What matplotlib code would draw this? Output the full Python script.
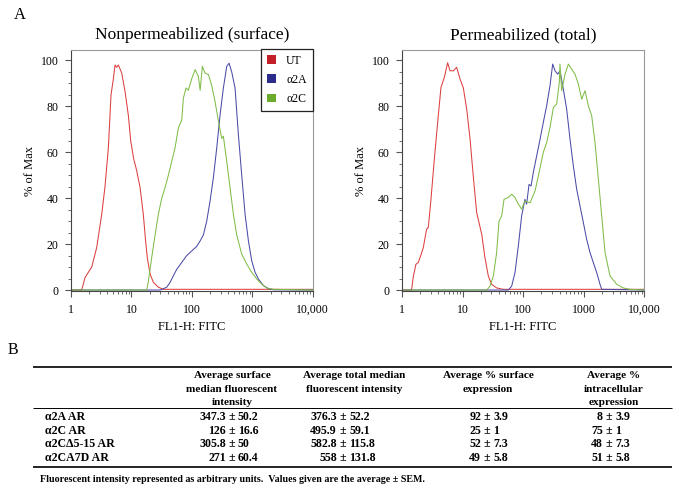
import numpy as np
import matplotlib
matplotlib.use("Agg")
import matplotlib.pyplot as plt
from matplotlib.patches import Patch
from matplotlib.ticker import MultipleLocator, LogLocator, NullFormatter

plt.rcParams['font.family'] = ['Liberation Serif', 'DejaVu Serif']

# ---- panel A data (FL1-H intensity, % of max) ----
surf_ut_x = [1, 1.5, 1.71, 2.2, 2.66, 3.22, 3.65, 4.15, 4.59, 5.02, 5.35, 5.7, 6.07, 6.9, 7.83,
             8.89, 9.72, 10.8, 12.2, 13.9, 15.7, 17.2, 18.3, 20.3, 23.1, 27.9, 33.8, 10000]
surf_ut_y = [0, 0, 5.5, 10, 18.5, 33, 45, 62, 85, 92, 98, 97, 98, 94.5, 86.5,
             76, 65, 57.6, 52, 44.6, 33, 21, 14, 7, 3.3, 1.2, 0.3, 0.3]

surf_a2a_x = [1, 30, 38.3, 43.5, 49.4, 56.1, 67.9, 82.1, 99.4, 120, 137, 155, 176, 200, 227, 258,
              293, 332, 377, 412, 456, 518, 588, 668, 759, 862, 978, 1111, 1262, 1525, 1845, 2235, 10000]
surf_a2a_y = [0, 0, 1.2, 3.3, 6.2, 9, 12, 15, 17, 19, 21.4, 24, 30, 38.8, 49, 62,
              76.4, 88, 97.4, 98.8, 95, 88, 67.7, 50, 33, 21.4, 12.7, 7.7, 4.8, 1.9, 0.6, 0.1, 0]

surf_a2c_x = [1, 17.9, 19.1, 21.6, 24.6, 27.9, 31.7, 36.0, 40.8, 46.4, 52.7, 59.8, 67.9, 72.3, 80.0,
              87.5, 99.4, 113, 128, 137, 149, 165, 188, 213, 242, 275, 312, 332, 377, 428, 486,
              552, 668, 809, 978, 1183, 1432, 1733, 2235, 10000]
surf_a2c_y = [0, 0, 4, 14, 24, 33, 40, 44.6, 50, 56, 62, 70.6, 74, 83.6, 88,
              87, 92, 96, 93, 87, 97.4, 94.5, 93.8, 89, 82, 73.5, 66, 67, 56, 44.6, 33,
              24, 15.6, 11.3, 7.7, 4.8, 2.6, 0.9, 0.3, 0]

tot_ut_x = [1, 1.44, 1.54, 1.7, 1.86, 2.03, 2.25, 2.55, 2.72, 3.01, 3.42, 3.88, 4.4, 5.0, 5.67,
            6.2, 7.03, 7.98, 9.06, 10.3, 11.7, 13.3, 15.0, 17.1, 20.7, 23.4, 26.6, 30.2, 36.5, 47.1, 10000]
tot_ut_y = [0, 0, 6, 11.2, 12, 14.8, 18.5, 26.5, 27.2, 39.5, 57, 73, 88.2, 92.6, 99,
            95.5, 95.5, 97, 92, 88, 78.8, 65.7, 49.7, 33.7, 24.3, 14.1, 6.1, 2.5, 0.9, 0.3, 0.3]

tot_a2a_x = [1, 57, 64.6, 73.3, 83.2, 94.4, 107, 114, 125, 135, 147, 167, 190, 215, 244, 277,
             307, 335, 371, 405, 460, 522, 593, 673, 764, 867, 984, 1117, 1268, 1439, 1633, 1854,
             1976, 10000]
tot_a2a_y = [0, 0, 1.7, 7.6, 19.2, 32.3, 39.5, 37.4, 46, 45.3, 51.2, 58.4, 65.7, 73, 80.2, 89,
             98.4, 95.5, 94, 95.5, 87.5, 78.8, 65.7, 54, 43.9, 36.6, 29.4, 22, 16.3, 11.9, 7.6, 2.5,
             0.3, 0]

tot_a2c_x = [1, 25, 28.4, 32.2, 36.5, 39.9, 44.2, 48.3, 56.9, 64.6, 73.3, 83.2, 94.4, 107, 130,
             157, 178, 215, 244, 277, 315, 357, 395, 405, 432, 491, 557, 632, 717, 814, 924,
             1049, 1191, 1351, 1534, 1741, 1976, 2243, 2713, 3494, 4500, 5800, 10000]
tot_a2c_y = [0, 0, 1.7, 6.1, 16.3, 30, 32.3, 39.5, 40.3, 41.7, 40.3, 37.4, 35.2, 38.8, 38,
             43.2, 49.7, 60, 64.2, 70.8, 79.5, 81, 90.4, 98.4, 86.8, 94, 98.4, 96.2, 94, 89.7, 83.1,
             86.8, 80.2, 75.9, 64.2, 48.3, 32.3, 16.3, 6.1, 2.5, 0.9, 0.3, 0]

legend_labels = ['UT', '\u03b12A', '\u03b12C']
x_ticks = [1, 10, 100, 1000, 10000]
x_tick_labels = ['1', '10', '100', '1000', '10,000']

# ---- panel B table ----
row_names = ['\u03b12A AR', '\u03b12C AR', '\u03b12C\u03945-15 AR', '\u03b12CA7D AR']
headers = [['Average surface', 'median fluorescent', 'intensity'],
           ['Average total median', 'fluorescent intensity'],
           ['Average % surface', 'expression'],
           ['Average %', 'intracellular', 'expression']]
surf_mfi = [347.3, 126, 305.8, 271]
surf_mfi_sem = [50.2, 16.6, 50, 60.4]
total_mfi = [376.3, 495.9, 582.8, 558]
total_mfi_sem = [52.2, 59.1, 115.8, 131.8]
pct_surface = [92, 25, 52, 49]
pct_surface_sem = [3.9, 1, 7.3, 5.8]
pct_intra = [8, 75, 48, 51]
pct_intra_sem = [3.9, 1, 7.3, 5.8]
footnote = ('Fluorescent intensity represented as arbitrary units.  '
            'Values given are the average \u00b1 SEM.')

c_ut, c_a2a, c_a2c = '#dc3f3f', '#4b4ba8', '#80bd48'
p_ut, p_a2a, p_a2c = '#c21f29', '#2c2c8a', '#6aab2c'

fig = plt.figure(figsize=(6.79, 4.91), dpi=100)

# full-figure pixel axes for labels and the table
bg = fig.add_axes([0, 0, 1, 1])
bg.set_xlim(0, 679)
bg.set_ylim(491, 0)
bg.axis('off')


def hist_panel(rect, title, curves):
    ax = fig.add_axes(rect)
    for xs, ys, c in curves:
        ax.plot(xs, ys, color=c, lw=0.75)
    ax.set_xscale('log')
    ax.set_xlim(1, 10000)
    ax.set_ylim(-0.5, 104.5)
    ax.set_xticks(x_ticks)
    ax.set_xticklabels(x_tick_labels)
    ax.xaxis.set_minor_locator(LogLocator(base=10, subs=np.arange(2, 10)))
    ax.xaxis.set_minor_formatter(NullFormatter())
    ax.set_yticks([0, 20, 40, 60, 80, 100])
    ax.yaxis.set_minor_locator(MultipleLocator(5))
    ax.tick_params(which='major', direction='out', length=4, width=0.8, color='#555555',
                   labelsize=8.5, pad=5)
    ax.tick_params(which='minor', direction='out', length=2.2, width=0.6, color='#555555')
    for s in ['left', 'bottom']:
        ax.spines[s].set_color('#444444')
        ax.spines[s].set_linewidth(0.8)
    for s in ['top', 'right']:
        ax.spines[s].set_color('#999999')
        ax.spines[s].set_linewidth(0.8)
    ax.set_xlabel('FL1-H: FITC', fontsize=9, labelpad=4)
    ax.set_ylabel('% of Max', fontsize=9, labelpad=3)
    ax.set_title(title, fontsize=12.5, pad=8)
    return ax


ax1 = hist_panel([0.1046, 0.407, 0.356, 0.491], 'Nonpermeabilized (surface)',
                 [(surf_ut_x, surf_ut_y, c_ut), (surf_a2a_x, surf_a2a_y, c_a2a),
                  (surf_a2c_x, surf_a2c_y, c_a2c)])
ax2 = hist_panel([0.592, 0.407, 0.357, 0.491], 'Permeabilized (total)',
                 [(tot_ut_x, tot_ut_y, c_ut), (tot_a2a_x, tot_a2a_y, c_a2a),
                  (tot_a2c_x, tot_a2c_y, c_a2c)])

handles = [Patch(facecolor=c, edgecolor='none') for c in (p_ut, p_a2a, p_a2c)]
leg = ax1.legend(handles, legend_labels, loc='upper right', fontsize=8.5, fancybox=False,
                 framealpha=1, edgecolor='#222222', borderaxespad=0, handlelength=0.75,
                 handleheight=0.75, handletextpad=0.9, labelspacing=0.62, borderpad=0.5,
                 bbox_to_anchor=(1.0, 1.006))
leg.get_frame().set_linewidth(0.9)

bg.text(20, 15, 'A', fontsize=12, ha='center', va='center')
bg.text(13, 350, 'B', fontsize=11.5, ha='center', va='center')

# table
hfs = 8.1
tfs = 8.6
bg.hlines([366.7, 466.7], 33, 672, color='black', lw=1.2)
bg.hlines([407.7], 33, 672, color='black', lw=0.7)
head_x = [232, 354, 488, 614]
head_y = [375.7, 389.3, 402.7]
for hx, lines in zip(head_x, headers):
    for hy, line in zip(head_y, lines):
        bg.text(hx, hy, line, fontsize=hfs, fontweight='bold', ha='center', va='center')

row_y = [416.7, 431, 444.3, 457.7]
pm_x = [232, 343, 487, 609]
cols = [(surf_mfi, surf_mfi_sem), (total_mfi, total_mfi_sem),
        (pct_surface, pct_surface_sem), (pct_intra, pct_intra_sem)]
for ry, name in zip(row_y, row_names):
    bg.text(45, ry, name, fontsize=tfs, fontweight='bold', ha='left', va='center')
for px, (means, sems) in zip(pm_x, cols):
    for ry, m, s in zip(row_y, means, sems):
        bg.text(px - 6, ry, f'{m:g}', fontsize=tfs, fontweight='bold', ha='right', va='center')
        bg.text(px, ry, '\u00b1', fontsize=tfs, fontweight='bold', ha='center', va='center')
        bg.text(px + 6, ry, f'{s:g}', fontsize=tfs, fontweight='bold', ha='left', va='center')

bg.text(40, 480, footnote, fontsize=7.2, fontweight='bold', ha='left', va='center')

fig.savefig('out.png', dpi=100)
